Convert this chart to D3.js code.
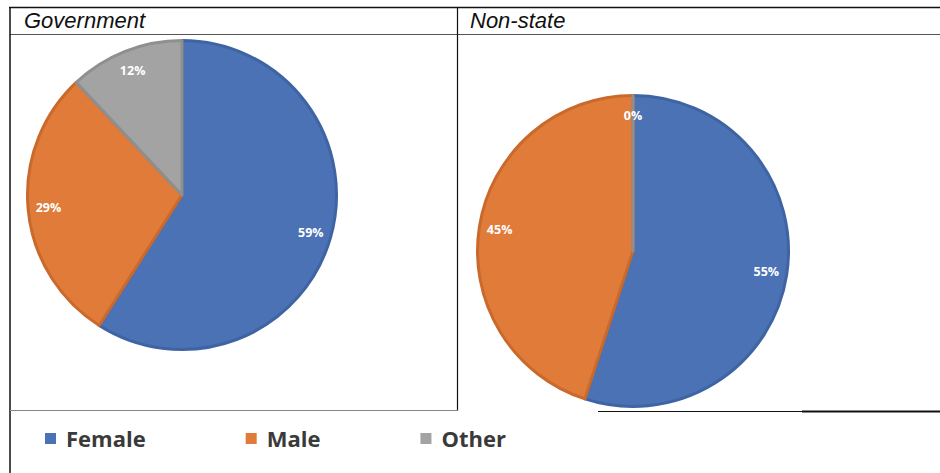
<!DOCTYPE html>
<html>
<head>
<meta charset="utf-8">
<script src="https://cdn.jsdelivr.net/npm/d3@7"></script>
<style>
  body { margin: 0; background: #fff; }
  svg { display: block; }
</style>
</head>
<body>
<div id="chart"></div>
<script>
const categories = ["Female", "Male", "Other"];
const panelTitles = ["Government", "Non-state"];
const governmentValues = [59, 29, 12];
const nonStateValues = [55, 45, 0];

const colors = ["#4a72b5", "#e07b39", "#a3a3a3"];
const edgeColors = ["#3e64a3", "#c96a2c", "#8f8f8f"];

const width = 940;
const height = 473;

const svg = d3.select("#chart")
  .append("svg")
  .attr("width", width)
  .attr("height", height);

// table frame
const frame = svg.append("g").attr("fill", "none");
frame.append("line").attr("x1", 9).attr("x2", 940).attr("y1", 7.5).attr("y2", 7.5)
  .attr("stroke", "#111").attr("stroke-width", 1.5);
frame.append("line").attr("x1", 10).attr("x2", 940).attr("y1", 34.5).attr("y2", 34.5)
  .attr("stroke", "#555").attr("stroke-width", 1);
frame.append("line").attr("x1", 10).attr("x2", 10).attr("y1", 7).attr("y2", 473)
  .attr("stroke", "#111").attr("stroke-width", 1.5);
frame.append("line").attr("x1", 457.5).attr("x2", 457.5).attr("y1", 7).attr("y2", 411)
  .attr("stroke", "#111").attr("stroke-width", 1.2);
frame.append("line").attr("x1", 10).attr("x2", 458).attr("y1", 410.5).attr("y2", 410.5)
  .attr("stroke", "#888").attr("stroke-width", 1);
frame.append("line").attr("x1", 598).attr("x2", 802).attr("y1", 411.5).attr("y2", 411.5)
  .attr("stroke", "#111").attr("stroke-width", 1.2);
frame.append("line").attr("x1", 802).attr("x2", 940).attr("y1", 411.5).attr("y2", 411.5)
  .attr("stroke", "#111").attr("stroke-width", 2.2);

// titles
svg.selectAll("text.title")
  .data(panelTitles)
  .join("text")
  .attr("class", "title")
  .attr("x", (d, i) => i === 0 ? 24 : 470)
  .attr("y", 28)
  .attr("font-family", "Liberation Sans, Arial, sans-serif")
  .attr("font-style", "italic")
  .attr("font-size", 22)
  .attr("fill", "#111")
  .text(d => d);

const pie = d3.pie().sort(null).value(d => d);

function drawPie(values, cx, cy, r) {
  const g = svg.append("g").attr("transform", `translate(${cx},${cy})`);
  const arcs = pie(values);
  const arc = d3.arc().innerRadius(0).outerRadius(r - 1.5);
  const labelArc = d3.arc().innerRadius(r * 0.86).outerRadius(r * 0.86);

  g.selectAll("path")
    .data(arcs)
    .join("path")
    .attr("d", arc)
    .attr("fill", (d, i) => colors[i])
    .attr("stroke", (d, i) => edgeColors[i])
    .attr("stroke-width", 3)
    .attr("stroke-linejoin", "round");

  g.selectAll("text")
    .data(arcs)
    .join("text")
    .attr("transform", d => `translate(${labelArc.centroid(d)})`)
    .attr("text-anchor", "middle")
    .attr("dy", "0.35em")
    .attr("font-family", "Open Sans, sans-serif")
    .attr("font-weight", "bold")
    .attr("font-size", 12.5)
    .attr("fill", "#fff")
    .text(d => d.data + "%");
}

drawPie(governmentValues, 182, 195, 156);
drawPie(nonStateValues, 633, 251, 157);

// legend: items laid out one after another, spacing follows text width
const legend = svg.append("g").attr("transform", "translate(45,433)");
let cursor = 0;
categories.forEach((name, i) => {
  const item = legend.append("g").attr("transform", `translate(${cursor},0)`);
  item.append("rect")
    .attr("width", 11)
    .attr("height", 11)
    .attr("fill", colors[i]);
  const label = item.append("text")
    .attr("x", 21)
    .attr("y", 14)
    .attr("font-family", "Open Sans, sans-serif")
    .attr("font-weight", "bold")
    .attr("font-size", 22)
    .attr("fill", "#3a3a3a")
    .text(name);
  cursor += 21 + label.node().getComputedTextLength() + 100;
});
</script>
</body>
</html>
